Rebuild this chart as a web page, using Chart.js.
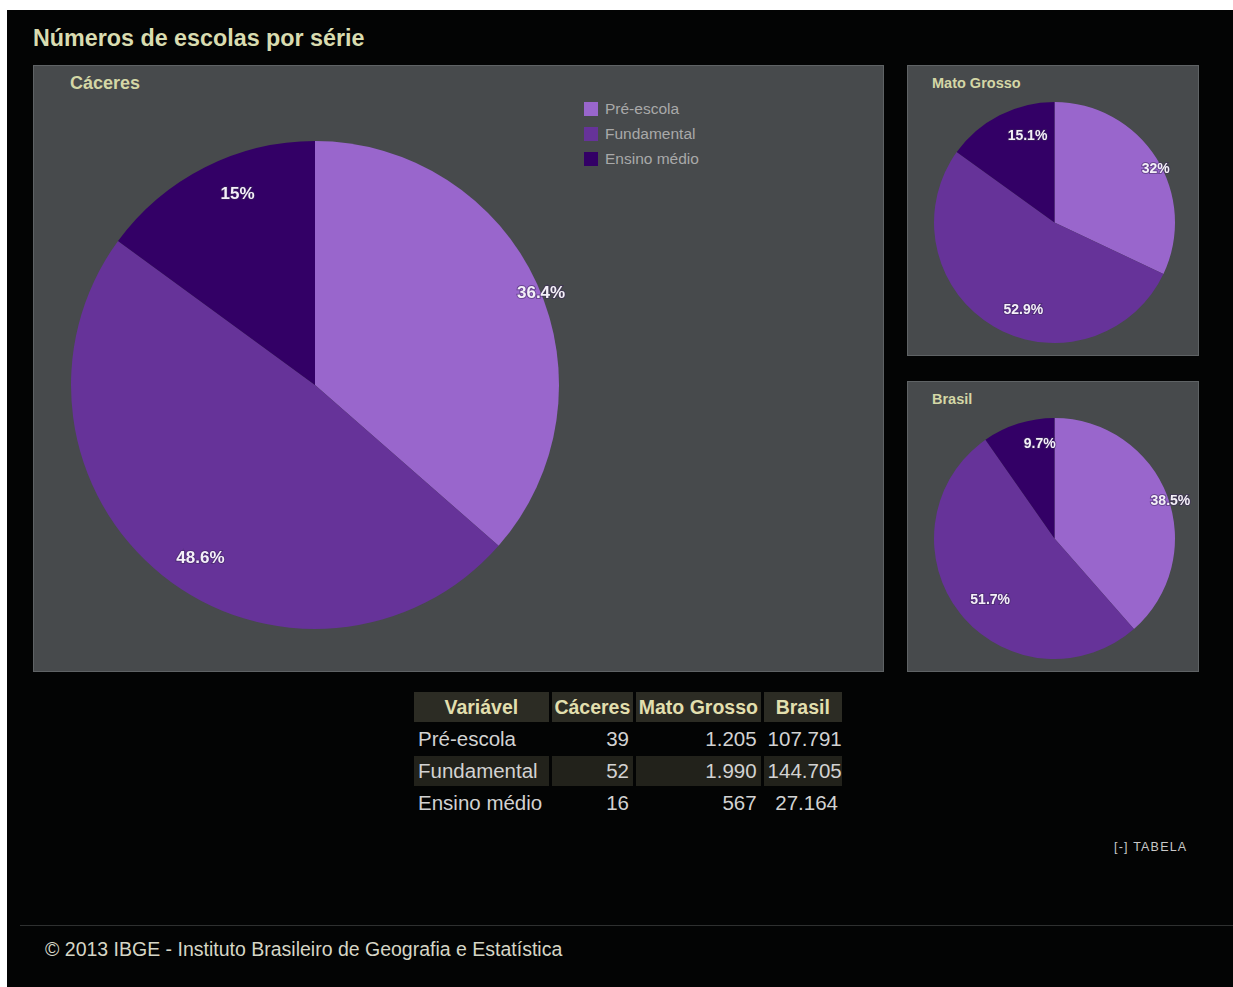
<!DOCTYPE html>
<html>
<head>
<meta charset="utf-8">
<script src="https://cdn.jsdelivr.net/npm/chart.js@4"></script>
<style>
  html, body { margin: 0; padding: 0; background: #fff; }
  body { width: 1233px; height: 987px; position: relative; overflow: hidden; font-family: "Liberation Sans", Arial, sans-serif; }
  .page { position: absolute; left: 7px; top: 10px; right: 0; bottom: 0; background: #030404; }
  .title { position: absolute; left: 33px; top: 25px; font-size: 23.3px; font-weight: bold; color: #d9dcb0; }
  .panel { position: absolute; background: #474a4c; border: 1px solid #5f6365; box-sizing: border-box; }
  .panel h4 { position: absolute; margin: 0; font-weight: bold; color: #d4d7a6; }
  .panel canvas { position: absolute; }
  .legend { position: absolute; left: 550px; top: 35px; font-size: 15.5px; color: #a9a9a9; }
  .legend div { height: 25px; line-height: 16px; }
  .legend span { display: inline-block; width: 14px; height: 14px; vertical-align: top; margin-top: 1px; margin-right: 7px; }
  table { position: absolute; left: 411px; top: 690px; width: 434px; border-spacing: 3px 2px; table-layout: fixed; font-size: 20.5px; color: #d2d2d2; white-space: nowrap; }
  th { background: #2c2c24; color: #e2dfae; font-weight: bold; font-size: 19.5px; height: 30px; padding: 0; overflow: hidden; }
  td { height: 30px; padding: 0 4px; text-align: right; overflow: hidden; }
  td:first-child { text-align: left; }
  tr.alt td { background: #22221b; }
  .toggle { position: absolute; left: 1114px; top: 840px; font-size: 12.5px; letter-spacing: 1.2px; color: #c8c8c8; }
  .footer-line { position: absolute; left: 20px; right: 0; top: 925px; height: 1px; background: #2e3030; }
  .footer { position: absolute; left: 45px; top: 938px; font-size: 19.5px; color: #d6d6c6; }
</style>
</head>
<body>
<div class="page"></div>
<div class="title">Números de escolas por série</div>

<div class="panel" style="left:33px;top:65px;width:851px;height:607px;">
  <h4 style="left:36px;top:7px;font-size:18px;">Cáceres</h4>
  <canvas id="chartCaceres" width="528" height="528" style="left:17px;top:55px;width:528px;height:528px;"></canvas>
  <div class="legend" id="legend"></div>
</div>

<div class="panel" style="left:907px;top:65px;width:292px;height:291px;">
  <h4 style="left:24px;top:9px;font-size:14.5px;">Mato Grosso</h4>
  <canvas id="chartMT" width="281" height="281" style="left:6px;top:16px;width:281px;height:281px;"></canvas>
</div>

<div class="panel" style="left:907px;top:381px;width:292px;height:291px;">
  <h4 style="left:24px;top:9px;font-size:14.5px;">Brasil</h4>
  <canvas id="chartBR" width="281" height="281" style="left:6px;top:16px;width:281px;height:281px;"></canvas>
</div>

<table id="dataTable">
  <colgroup><col style="width:134px"><col style="width:81px"><col style="width:124px"><col style="width:78px"></colgroup>
</table>

<div class="toggle">[-] TABELA</div>
<div class="footer-line"></div>
<div class="footer">© 2013 IBGE - Instituto Brasileiro de Geografia e Estatística</div>

<script>
// ---- DATA ----
const categories = ["Pré-escola", "Fundamental", "Ensino médio"];
const regions = ["Cáceres", "Mato Grosso", "Brasil"];
const caceresValues = [39, 52, 16];
const matoGrossoValues = [1205, 1990, 567];
const brasilValues = [107791, 144705, 27164];
const sliceColors = ["#9966cc", "#663399", "#330066"];

// format 107791 -> 107.791 (pt-BR thousands)
function fmt(n) {
  return String(n).replace(/\B(?=(\d{3})+(?!\d))/g, ".");
}

// percentage labels drawn on the slices
const sliceLabels = {
  id: "sliceLabels",
  afterDatasetsDraw(chart, args, opts) {
    const ctx = chart.ctx;
    const data = chart.data.datasets[0].data;
    const total = data.reduce((a, b) => a + b, 0);
    const meta = chart.getDatasetMeta(0);
    ctx.save();
    ctx.font = opts.font;
    ctx.textAlign = "center";
    ctx.textBaseline = "middle";
    meta.data.forEach((arc, i) => {
      const p = arc.getProps(["x", "y", "startAngle", "endAngle", "outerRadius"], true);
      const mid = (p.startAngle + p.endAngle) / 2 + opts.turn[i];
      const r = p.outerRadius * opts.dist[i];
      const pct = Math.round((data[i] / total) * 1000) / 10;
      const x = p.x + Math.cos(mid) * r;
      const y = p.y + Math.sin(mid) * r;
      ctx.lineWidth = 2;
      ctx.strokeStyle = "rgba(60,40,90,0.5)";
      ctx.strokeText(pct + "%", x, y);
      ctx.fillStyle = "#f4f0f8";
      ctx.fillText(pct + "%", x, y);
    });
    ctx.restore();
  },
};

function makePie(id, values, font, dist, turn, pad) {
  const ctx = document.getElementById(id).getContext("2d");
  return new Chart(ctx, {
    type: "pie",
    data: {
      labels: categories,
      datasets: [{
        data: values,
        backgroundColor: sliceColors,
        borderWidth: 0,
      }],
    },
    options: {
      responsive: false,
      animation: false,
      events: [],
      layout: { padding: pad },
      plugins: {
        legend: { display: false },
        tooltip: { enabled: false },
        sliceLabels: { font: font, dist: dist, turn: turn },
      },
    },
    plugins: [sliceLabels],
  });
}

makePie("chartCaceres", caceresValues, "bold 17px 'Liberation Sans'", [1.0, 0.85, 0.845], [0.04, -0.09, 0.085], 20);
makePie("chartMT", matoGrossoValues, "bold 14px 'Liberation Sans'", [0.95, 0.77, 0.75], [0.08, -0.19, 0.17], 20);
makePie("chartBR", brasilValues, "bold 14px 'Liberation Sans'", [1.01, 0.74, 0.79], [0.05, -0.1, 0.15], 20);

// legend
const legend = document.getElementById("legend");
categories.forEach((c, i) => {
  const row = document.createElement("div");
  row.innerHTML = `<span style="background:${sliceColors[i]}"></span>${c}`;
  legend.appendChild(row);
});

// table
const table = document.getElementById("dataTable");
const head = document.createElement("tr");
head.innerHTML = "<th>Variável</th>" + regions.map((r) => `<th>${r}</th>`).join("");
table.appendChild(head);
categories.forEach((c, i) => {
  const tr = document.createElement("tr");
  if (i % 2 === 1) tr.className = "alt";
  tr.innerHTML = `<td>${c}</td><td>${fmt(caceresValues[i])}</td><td>${fmt(matoGrossoValues[i])}</td><td>${fmt(brasilValues[i])}</td>`;
  table.appendChild(tr);
});
</script>
</body>
</html>
